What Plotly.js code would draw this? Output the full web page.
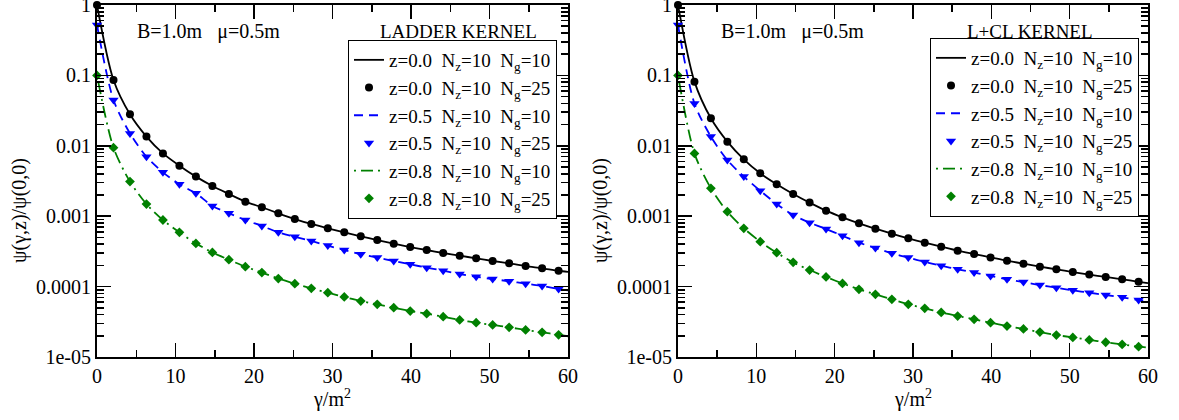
<!DOCTYPE html>
<html>
<head>
<meta charset="utf-8">
<script src="https://cdn.plot.ly/plotly-3.0.1.min.js"></script>
<style>html,body{margin:0;padding:0;background:#fff;}#chart{width:1179px;height:420px;}</style>
</head>
<body>
<div id="chart"></div>
<script>
// gamma/m^2 values of the Ng=25 points
const gamma = [0, 2.1, 4.2, 6.3, 8.4, 10.5, 12.6, 14.7, 16.8, 18.9, 21.0, 23.1, 25.2, 27.3, 29.4,
  31.5, 33.6, 35.7, 37.8, 39.9, 42.0, 44.1, 46.2, 48.3, 50.4, 52.5, 54.6, 56.7, 58.8];
// gamma/m^2 values of the Ng=10 curves (run to the frame)
const gammaLine = [0, 2.1, 4.2, 6.3, 8.4, 10.5, 12.6, 14.7, 16.8, 18.9, 21.0, 23.1, 25.2, 27.3, 29.4,
  31.5, 33.6, 35.7, 37.8, 39.9, 42.0, 44.1, 46.2, 48.3, 50.4, 52.5, 54.6, 56.7, 58.8, 60];

// LADDER KERNEL
const ladderZ00Ng25 = [1, 0.086, 0.028, 0.0135, 0.0078, 0.00522, 0.00365, 0.00269, 0.00207, 0.00161, 0.00134, 0.00110,
  0.000912, 0.000775, 0.000673, 0.000590, 0.000518, 0.000459, 0.000407, 0.000365, 0.000331, 0.000300,
  0.000275, 0.000252, 0.000231, 0.000214, 0.000196, 0.000182, 0.000168];
const ladderZ00Ng10 = [1, 0.086, 0.028, 0.0135, 0.0078, 0.00522, 0.00365, 0.00269, 0.00207, 0.00161, 0.00134, 0.00110,
  0.000912, 0.000775, 0.000673, 0.000590, 0.000518, 0.000459, 0.000407, 0.000365, 0.000331, 0.000300,
  0.000275, 0.000252, 0.000231, 0.000214, 0.000196, 0.000182, 0.000168, 0.000162];
const ladderZ05Ng25 = [0.52, 0.0448, 0.0150, 0.0070, 0.0042, 0.00284, 0.00211, 0.00140, 0.00110, 0.000883, 0.000726,
  0.000590, 0.000512, 0.000445, 0.000382, 0.000331, 0.000288, 0.000258, 0.000231, 0.000207, 0.000186,
  0.000168, 0.000151, 0.000138, 0.000128, 0.000119, 0.000110, 0.000102, 0.0000925];
const ladderZ05Ng10 = [0.52, 0.0448, 0.0150, 0.0070, 0.0042, 0.00284, 0.00211, 0.00140, 0.00110, 0.000883, 0.000726,
  0.000590, 0.000512, 0.000445, 0.000382, 0.000331, 0.000288, 0.000258, 0.000231, 0.000207, 0.000186,
  0.000168, 0.000151, 0.000138, 0.000128, 0.000119, 0.000110, 0.000102, 0.0000925, 0.0000887];
const ladderZ08Ng25 = [0.1, 0.0094, 0.0031, 0.00149, 0.000883, 0.000590, 0.000411, 0.000306, 0.000241, 0.000192,
  0.000158, 0.000130, 0.000110, 0.0000944, 0.0000820, 0.0000712, 0.0000624, 0.0000560, 0.0000501, 0.0000450,
  0.0000412, 0.0000374, 0.0000336, 0.0000307, 0.0000285, 0.0000264, 0.0000242, 0.0000224, 0.0000207];
const ladderZ08Ng10 = [0.1, 0.0094, 0.0031, 0.00149, 0.000883, 0.000590, 0.000411, 0.000306, 0.000241, 0.000192,
  0.000158, 0.000130, 0.000110, 0.0000944, 0.0000820, 0.0000712, 0.0000624, 0.0000560, 0.0000501, 0.0000450,
  0.0000412, 0.0000374, 0.0000336, 0.0000307, 0.0000285, 0.0000264, 0.0000242, 0.0000224, 0.0000207, 0.0000197];

// L+CL KERNEL
const lclZ00Ng25 = [1, 0.0815, 0.0246, 0.01145, 0.00643, 0.00407, 0.00284, 0.00207, 0.00156, 0.00120, 0.000964,
  0.000792, 0.000665, 0.000565, 0.000485, 0.000421, 0.000369, 0.000324, 0.000290, 0.000260, 0.000233,
  0.000212, 0.000192, 0.000176, 0.000161, 0.000148, 0.000137, 0.000127, 0.000117];
const lclZ00Ng10 = [1, 0.0815, 0.0246, 0.01145, 0.00643, 0.00407, 0.00284, 0.00207, 0.00156, 0.00120, 0.000964,
  0.000792, 0.000665, 0.000565, 0.000485, 0.000421, 0.000369, 0.000324, 0.000290, 0.000260, 0.000233,
  0.000212, 0.000192, 0.000176, 0.000161, 0.000148, 0.000137, 0.000127, 0.000117, 0.000112];
const lclZ05Ng25 = [0.52, 0.040, 0.0135, 0.00628, 0.00365, 0.00230, 0.00149, 0.00104, 0.00081, 0.000658, 0.000528,
  0.000421, 0.000353, 0.000297, 0.000258, 0.000224, 0.000198, 0.000176, 0.000158, 0.000142, 0.000127,
  0.000116, 0.000105, 0.0000964, 0.0000885, 0.0000820, 0.0000760, 0.0000705, 0.0000645];
const lclZ05Ng10 = [0.52, 0.040, 0.0135, 0.00628, 0.00365, 0.00230, 0.00149, 0.00104, 0.00081, 0.000658, 0.000528,
  0.000421, 0.000353, 0.000297, 0.000258, 0.000224, 0.000198, 0.000176, 0.000158, 0.000142, 0.000127,
  0.000116, 0.000105, 0.0000964, 0.0000885, 0.0000820, 0.0000760, 0.0000705, 0.0000645, 0.0000622];
const lclZ08Ng25 = [0.1, 0.0078, 0.00249, 0.00116, 0.000673, 0.000435, 0.000303, 0.000221, 0.000172, 0.000137,
  0.000111, 0.0000914, 0.0000776, 0.0000659, 0.0000560, 0.0000491, 0.0000430, 0.0000382, 0.0000343, 0.0000307,
  0.0000275, 0.0000250, 0.0000226, 0.0000205, 0.0000190, 0.0000175, 0.0000162, 0.0000151, 0.0000140];
const lclZ08Ng10 = [0.1, 0.0078, 0.00249, 0.00116, 0.000673, 0.000435, 0.000303, 0.000221, 0.000172, 0.000137,
  0.000111, 0.0000914, 0.0000776, 0.0000659, 0.0000560, 0.0000491, 0.0000430, 0.0000382, 0.0000343, 0.0000307,
  0.0000275, 0.0000250, 0.0000226, 0.0000205, 0.0000190, 0.0000175, 0.0000162, 0.0000151, 0.0000140, 0.0000136];

const yTickVals = [1, 0.1, 0.01, 0.001, 0.0001, 0.00001];
const yTickText = ["1", "0.1", "0.01", "0.001", "0.0001", "1e-05"];
const legendNames = [
  "z=0.0\u00a0\u00a0N<sub>z</sub>=10\u00a0\u00a0N<sub>g</sub>=10",
  "z=0.0\u00a0\u00a0N<sub>z</sub>=10\u00a0\u00a0N<sub>g</sub>=25",
  "z=0.5\u00a0\u00a0N<sub>z</sub>=10\u00a0\u00a0N<sub>g</sub>=10",
  "z=0.5\u00a0\u00a0N<sub>z</sub>=10\u00a0\u00a0N<sub>g</sub>=25",
  "z=0.8\u00a0\u00a0N<sub>z</sub>=10\u00a0\u00a0N<sub>g</sub>=10",
  "z=0.8\u00a0\u00a0N<sub>z</sub>=10\u00a0\u00a0N<sub>g</sub>=25"
];

const FONT = "Liberation Serif";
const W = 1179, H = 420;
const px = v => v / W;
const py = v => 1 - v / H;

const styles = [
  {color: "#000000", dash: "solid", symbol: "circle", size: 8},
  {color: "#0000ff", dash: "9px,6px", symbol: "triangle-down", size: 9},
  {color: "#008000", dash: "2px,5px,12px,5px", symbol: "diamond", size: 7.5}
];

function panel(lines, points, xa, ya, legendId) {
  const out = [];
  for (let i = 0; i < 3; i++) {
    const s = styles[i];
    out.push({
      x: gammaLine, y: lines[i], xaxis: xa, yaxis: ya, mode: "lines",
      line: {color: s.color, width: 1.8, dash: s.dash, shape: "spline", smoothing: 0.8},
      name: legendNames[2 * i], legend: legendId, legendgroup: legendId + "l" + i,
      showlegend: true, hoverinfo: "skip"
    });
    out.push({
      x: gamma, y: points[i], xaxis: xa, yaxis: ya, mode: "markers",
      marker: {color: s.color, symbol: s.symbol, size: s.size, line: {width: 0}},
      name: legendNames[2 * i + 1], legend: legendId, legendgroup: legendId + "m" + i,
      showlegend: true, cliponaxis: false, hoverinfo: "skip"
    });
  }
  return out;
}

const traces = [].concat(
  panel([ladderZ00Ng10, ladderZ05Ng10, ladderZ08Ng10], [ladderZ00Ng25, ladderZ05Ng25, ladderZ08Ng25], "x", "y", "legend"),
  panel([lclZ00Ng10, lclZ05Ng10, lclZ08Ng10], [lclZ00Ng25, lclZ05Ng25, lclZ08Ng25], "x2", "y2", "legend2")
);

const minorVals = [];
for (let e = -5; e < 0; e++) for (let d = 2; d <= 9; d++) minorVals.push(d * Math.pow(10, e));

function xAxis(domain, anchor) {
  return {
    domain: domain, anchor: anchor, range: [0, 60], dtick: 10, tick0: 0,
    showline: true, linecolor: "#000", linewidth: 2, mirror: "allticks",
    ticks: "inside", ticklen: 14, tickwidth: 1.5, tickcolor: "#000",
    minor: {ticks: "inside", ticklen: 7, tickwidth: 1.5, tickcolor: "#000", dtick: 5, showgrid: false},
    showgrid: false, zeroline: false, ticklabeloverflow: "allow",
    tickfont: {family: FONT, size: 20, color: "#000"}
  };
}
function yAxis(anchor) {
  return {
    domain: [63 / H, 415 / H], anchor: anchor, type: "log", range: [-5, 0],
    tickmode: "array", tickvals: yTickVals, ticktext: yTickText,
    showline: true, linecolor: "#000", linewidth: 2, mirror: "allticks",
    ticks: "inside", ticklen: 14, tickwidth: 1.5, tickcolor: "#000",
    minor: {ticks: "inside", ticklen: 7, tickwidth: 1.5, tickcolor: "#000", tickmode: "array", tickvals: minorVals, showgrid: false},
    showgrid: false, zeroline: false, ticklabeloverflow: "allow",
    tickfont: {family: FONT, size: 20, color: "#000"}
  };
}

function legend(xp, yp) {
  return {
    x: px(xp), y: py(yp), xanchor: "left", yanchor: "top",
    bgcolor: "#fff", bordercolor: "#000", borderwidth: 1,
    font: {family: FONT, size: 19, color: "#000"},
    traceorder: "normal", tracegroupgap: 0, itemwidth: 30
  };
}

const annFont = {family: FONT, size: 20, color: "#000"};
const annotations = [
  {text: "B=1.0m\u00a0\u00a0\u00a0\u03bc=0.5m", x: px(135), y: py(32), xanchor: "left", yanchor: "middle"},
  {text: "LADDER KERNEL", x: px(378), y: py(32), xanchor: "left", yanchor: "middle", font: {family: FONT, size: 19, color: "#000"}},
  {text: "B=1.0m\u00a0\u00a0\u00a0\u03bc=0.5m", x: px(719), y: py(32), xanchor: "left", yanchor: "middle"},
  {text: "L+CL KERNEL", x: px(965), y: py(32), xanchor: "left", yanchor: "middle", font: {family: FONT, size: 19, color: "#000"}},
  {text: "\u03b3/m<sup>2</sup>", x: px(332), y: py(398), xanchor: "center", yanchor: "middle"},
  {text: "\u03b3/m<sup>2</sup>", x: px(913), y: py(398), xanchor: "center", yanchor: "middle"},
  {text: "\u03c8(\u03b3,z)/\u03c8(0,0)", x: px(19), y: py(211), xanchor: "center", yanchor: "middle", textangle: -90},
  {text: "\u03c8(\u03b3,z)/\u03c8(0,0)", x: px(600), y: py(211), xanchor: "center", yanchor: "middle", textangle: -90}
].map(a => Object.assign({xref: "paper", yref: "paper", showarrow: false, font: annFont}, a));

const layout = {
  width: W, height: H,
  margin: {l: 0, r: 0, t: 0, b: 0},
  paper_bgcolor: "#fff", plot_bgcolor: "#fff",
  font: {family: FONT, color: "#000"},
  xaxis: xAxis([97 / W, 568 / W], "y"),
  yaxis: yAxis("x"),
  xaxis2: xAxis([678 / W, 1148 / W], "y2"),
  yaxis2: yAxis("x2"),
  legend: legend(348, 40),
  legend2: legend(930, 38),
  annotations: annotations,
  showlegend: true
};

Plotly.newPlot("chart", traces, layout, {staticPlot: true, displayModeBar: false});
</script>
</body>
</html>
